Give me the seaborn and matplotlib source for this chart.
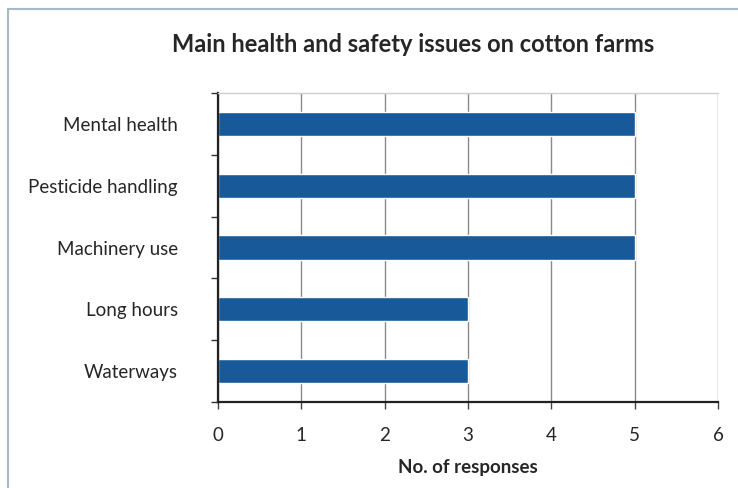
import matplotlib
matplotlib.use("Agg")
import matplotlib.pyplot as plt
import seaborn as sns
import pandas as pd
from matplotlib.patches import Rectangle

categories = ["Mental health", "Pesticide handling", "Machinery use", "Long hours", "Waterways"]
responses = [5, 5, 5, 3, 3]
x_ticks = [0, 1, 2, 3, 4, 5, 6]

sns.set_theme(style="white")
plt.rcParams['font.family'] = ['Lato', 'DejaVu Sans']

df = pd.DataFrame({"issue": categories, "n": responses})

fig = plt.figure(figsize=(7.38, 4.88), dpi=100)
fig.patch.set_facecolor("white")
# scanned frame
fig.add_artist(Rectangle((8/738, -0.1), 1.2, 1 - 9/488 + 0.1, transform=fig.transFigure,
                         fill=False, edgecolor="#a9b8c6", linewidth=1.5))

ax = fig.add_axes([218/738, 1 - 402/488, 500/738, 309/488])
sns.barplot(data=df, x="n", y="issue", orient="h", color="#185a99", saturation=1,
            width=0.39, ax=ax)

ax.set_xlim(0, 6)
ax.set_ylim(4.5, -0.5)
ax.set_xticks(x_ticks)
ax.set_xticklabels([str(t) for t in x_ticks], fontsize=13.5)
ax.xaxis.grid(True, color="#8a8a8a", linewidth=1)
ax.set_axisbelow(True)
ax.tick_params(axis="x", direction="out", length=5, width=1, color="#444444", pad=13)
ax.tick_params(axis="y", which="major", length=0, pad=29)
ax.set_yticks([-0.5, 0.5, 1.5, 2.5, 3.5, 4.5], minor=True)
ax.tick_params(axis="y", which="minor", direction="out", length=5, width=1, color="#333333")
ax.tick_params(axis="x", bottom=True)
ax.tick_params(axis="y", which="minor", left=True)
for lbl in ax.get_yticklabels():
    lbl.set_fontsize(13.5)

for s in ["left", "bottom"]:
    ax.spines[s].set_color("#222222")
    ax.spines[s].set_linewidth(1.6)
ax.spines["top"].set_color("#cfcfcf")
ax.spines["top"].set_linewidth(1)
ax.spines["right"].set_visible(False)

ax.set_ylabel("")
ax.set_xlabel("No. of responses", fontsize=13.5, fontweight="bold", labelpad=11)
fig.text(413/738, 1 - 45/488, "Main health and safety issues on cotton farms",
         ha="center", va="center", fontsize=17, fontweight="bold")

fig.savefig("out.png", dpi=100)
